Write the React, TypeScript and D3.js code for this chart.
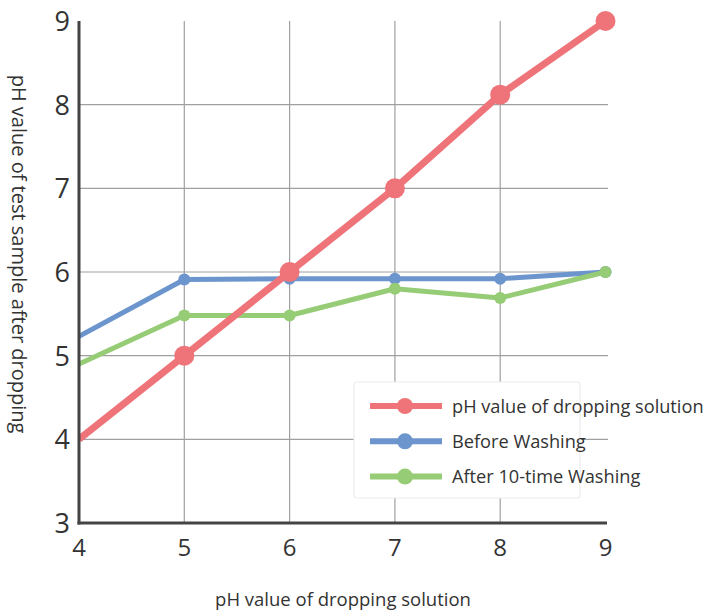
import React from "react";
import * as d3 from "d3";

const xValues = [4, 5, 6, 7, 8, 9];
const dropping = [4, 5, 6, 7, 8.12, 9];
const beforeWashing = [5.23, 5.91, 5.92, 5.92, 5.92, 6.0];
const after10Washing = [4.9, 5.48, 5.48, 5.8, 5.69, 6.0];
const xTicks = [4, 5, 6, 7, 8, 9];
const yTicks = [3, 4, 5, 6, 7, 8, 9];
const seriesNames = ["pH value of dropping solution", "Before Washing", "After 10-time Washing"];
const xTitle = "pH value of dropping solution";
const yTitle = "pH value of test sample after dropping";

const FONT = "'Open Sans', 'Noto Sans', sans-serif";

export default function App() {
  const W = 713, H = 610;
  const x = d3.scaleLinear().domain([4, 9]).range([79, 605.5]);
  const y = d3.scaleLinear().domain([3, 9]).range([523, 21]);
  const line = d3.line<number>().x((_, i) => x(xValues[i])).y((d) => y(d));

  const series = [
    { name: seriesNames[0], data: dropping, color: "#EE7479", w: 7, r: 10 },
    { name: seriesNames[1], data: beforeWashing, color: "#6C95CD", w: 5, r: 6 },
    { name: seriesNames[2], data: after10Washing, color: "#97CC76", w: 5, r: 6 },
  ];
  const drawOrder = [1, 2, 0];

  return (
    <svg width={W} height={H} style={{ position: "absolute", left: 0, top: 0 }}>
      <defs>
        <clipPath id="plotClip">
          <rect x={x(4)} y={0} width={W - x(4)} height={y(3)} />
        </clipPath>
      </defs>
      <rect width={W} height={H} fill="#fff" />
      {/* grid */}
      {xTicks.filter((t) => t > 4 && t < 9).map((t) => (
        <line key={"gx" + t} x1={x(t)} x2={x(t)} y1={y(9)} y2={y(3)} stroke="#a0a0a0" strokeWidth={1.2} />
      ))}
      {yTicks.filter((t) => t > 3 && t < 9).map((t) => (
        <line key={"gy" + t} x1={x(4)} x2={608} y1={y(t)} y2={y(t)} stroke="#a0a0a0" strokeWidth={1.2} />
      ))}
      {/* tick labels */}
      {yTicks.map((t) => (
        <text key={"yt" + t} x={70} y={y(t) + 10} textAnchor="end" fontFamily={FONT} fontSize={27} fill="#333">{t}</text>
      ))}
      {xTicks.map((t) => (
        <text key={"xt" + t} x={x(t)} y={556} textAnchor="middle" fontFamily={FONT} fontSize={24} fill="#333">{t}</text>
      ))}
      {/* titles */}
      <text x={343} y={606} textAnchor="middle" fontFamily={FONT} fontSize={18.5} fill="#333">{xTitle}</text>
      <text transform="translate(12,254) rotate(90)" textAnchor="middle" fontFamily={FONT} fontSize={20} fill="#333">{yTitle}</text>
      {/* series */}
      <g clipPath="url(#plotClip)">
        {drawOrder.map((si) => {
          const s = series[si];
          return (
            <g key={s.name}>
              <path d={line(s.data) || ""} fill="none" stroke={s.color} strokeWidth={s.w} strokeLinejoin="round" />
              {s.data.map((v, i) =>
                i === 0 ? null : <circle key={i} cx={x(xValues[i])} cy={y(v)} r={s.r} fill={s.color} />
              )}
            </g>
          );
        })}
      </g>
      {/* axes */}
      <line x1={x(4)} x2={x(4)} y1={y(9)} y2={y(3) + 1.5} stroke="#444" strokeWidth={3} />
      <line x1={x(4) - 1.5} x2={607} y1={y(3)} y2={y(3)} stroke="#444" strokeWidth={3} />
      {/* legend */}
      <g>
        <rect x={354} y={382} width={226} height={116} rx={3} fill="#fff" stroke="#ececec" strokeWidth={1.2} />
        {series.map((s, i) => {
          const ly = 406 + i * 35.3;
          return (
            <g key={"lg" + i}>
              <line x1={370} x2={442} y1={ly} y2={ly} stroke={s.color} strokeWidth={6} />
              <circle cx={405} cy={ly} r={8} fill={s.color} />
              <text x={452} y={ly + 6.5} fontFamily={FONT} fontSize={18.2} fill="#333">{s.name}</text>
            </g>
          );
        })}
      </g>
    </svg>
  );
}
